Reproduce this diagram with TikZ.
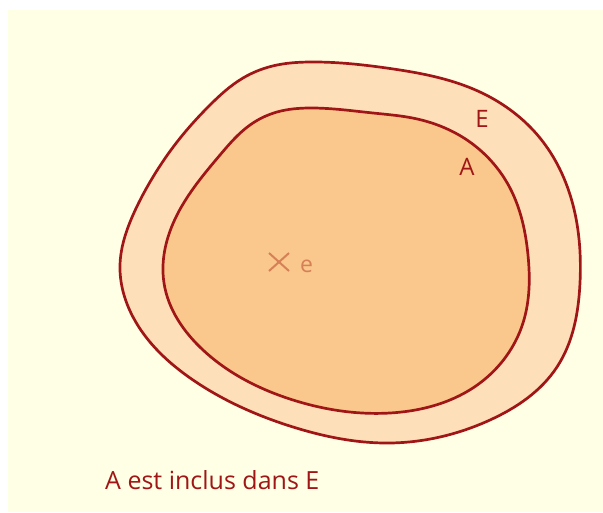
\documentclass[tikz,border=0pt]{standalone}
\usepackage{fontspec}
\setmainfont{Open Sans}
\usetikzlibrary{calc,hobby}
\definecolor{bgcream}{RGB}{255,255,229}
\definecolor{outerfill}{RGB}{253,223,186}
\definecolor{innerfill}{RGB}{250,200,140}
\definecolor{linered}{RGB}{160,22,22}
\definecolor{markcol}{RGB}{214,128,88}
\tikzset{
  setline/.style={draw=linered, line width=2.7pt, line join=round},
  lbl/.style={text=linered, font=\fontsize{24}{28}\selectfont, inner sep=0pt},
  marklbl/.style={text=markcol, font=\fontsize{23}{28}\selectfont, inner sep=0pt},
}
\begin{document}
\begin{tikzpicture}[x=10pt,y=-10pt]
\useasboundingbox (0,0) rectangle (60.3,51.2);
\fill[white] (0,0) rectangle (60.3,51.2);
\fill[bgcream] (0.8,1.0) rectangle (60.3,51.2);
% outer set E
\draw[setline, fill=outerfill] plot[closed hobby] coordinates {
  (31.0,6.2) (39.0,6.85) (42.5,7.45) (48.0,9.2) (54.0,13.8) (57.3,20.5)
  (58.0,28.3) (55.7,36.7) (49.0,42.0) (39.0,44.3) (29.3,42.7) (19.3,38.0)
  (13.3,31.7) (12.0,26.5) (13.3,21.5) (15.0,18.2) (17.7,14.2) (21.0,10.5)
  (24.3,7.8) (27.7,6.5)};
% inner set A
\draw[setline, fill=innerfill] plot[closed hobby] coordinates {
  (31.0,10.8) (37.3,11.3) (41.5,11.85) (46.7,14.0) (51.0,18.8) (52.8,25.5)
  (52.3,32.3) (48.0,38.3) (39.0,41.3) (29.3,40.0) (20.3,35.0) (16.4,28.3)
  (17.7,21.5) (22.0,15.5) (25.0,12.5) (27.7,11.2)};
% cross
\coordinate (c) at (27.9,26.2);
\draw[markcol, line width=2pt] ($(c)+(-1.0,-0.9)$) -- ($(c)+(1.0,0.9)$);
\draw[markcol, line width=2pt] ($(c)+(-1.0,0.9)$) -- ($(c)+(1.0,-0.9)$);
\node[marklbl, anchor=base west] (e) at (30.0,27.2) {e};
\node[lbl, anchor=base] (E) at (48.2,12.7) {E};
\node[lbl, anchor=base] (A) at (46.7,17.5) {A};
\node[text=linered, font=\fontsize{25}{30}\selectfont, inner sep=0pt, anchor=base west] (cap) at (10.5,48.9) {A est inclus dans E};
\end{tikzpicture}
\end{document}
